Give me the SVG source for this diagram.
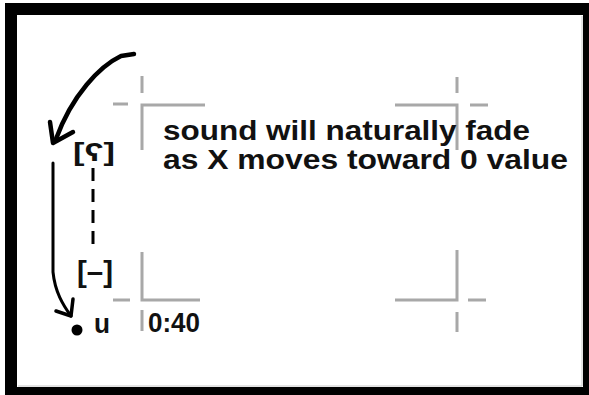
<svg xmlns="http://www.w3.org/2000/svg" width="589" height="395" viewBox="0 0 589 395">
<style>
.mark{stroke:#a8a8a8;stroke-width:3;fill:none;stroke-linecap:butt}
.ink{stroke:#000;fill:none;stroke-linecap:round;stroke-linejoin:round}
.t{font-family:"Liberation Sans","DejaVu Sans",Arial,sans-serif;font-weight:bold;fill:#111}
</style>
<g id="frame">
<rect x="5" y="3" width="584" height="392" fill="#000"/>
<rect x="17" y="15" width="566" height="372" fill="#fff"/>
<path d="M582,16 V386 H18" stroke="#c8c8c8" stroke-width="1" fill="none"/>
</g>
<g id="crop-marks">
<path class="mark" d="M142,76 V93 M113,104 H128 M205,105 H142 V150"/>
<path class="mark" d="M457,77 V93 M395,105 H457 V150 M470,105 H488"/>
<path class="mark" d="M142,252 V300 H200 M113,300 H130 M142,310 V331"/>
<path class="mark" d="M457,250 V300 H395 M468,300 H486 M457,312 V332"/>
</g>
<g id="caption">
<text class="t" x="163" y="140" font-size="28" textLength="367" lengthAdjust="spacingAndGlyphs">sound will naturally fade</text>
<text class="t" x="163" y="169" font-size="28" textLength="405" lengthAdjust="spacingAndGlyphs">as X moves toward 0 value</text>
</g>
<g id="node-top">
<text class="t" x="73" y="161" font-size="26" textLength="42" lengthAdjust="spacingAndGlyphs">[ʕ]</text>
</g>
<g id="node-bottom">
<text class="t" x="77" y="282" font-size="30" textLength="36" lengthAdjust="spacingAndGlyphs">[–]</text>
</g>
<g id="node-u">
<circle cx="77" cy="330" r="5.5" fill="#000"/>
<text class="t" x="94" y="333" font-size="27" textLength="16" lengthAdjust="spacingAndGlyphs">u</text>
</g>
<g id="time">
<text class="t" x="148" y="332" font-size="27" textLength="52" lengthAdjust="spacingAndGlyphs">0:40</text>
</g>
<g id="connectors">
<path class="ink" stroke-width="4.5" d="M134,54 L121,56 C100,66 72,95 56,139"/>
<path class="ink" stroke-width="4.5" d="M50,122 L53,143 L73,132"/>
<path stroke="#000" stroke-width="3" fill="none" d="M93,168 V250" stroke-dasharray="13 8"/>
<path class="ink" stroke-width="3" d="M53,163 V272 C55,292 63,305 71,316"/>
<path class="ink" stroke-width="3.5" d="M56,311 L71,316 L73,299"/>
</g>
</svg>
